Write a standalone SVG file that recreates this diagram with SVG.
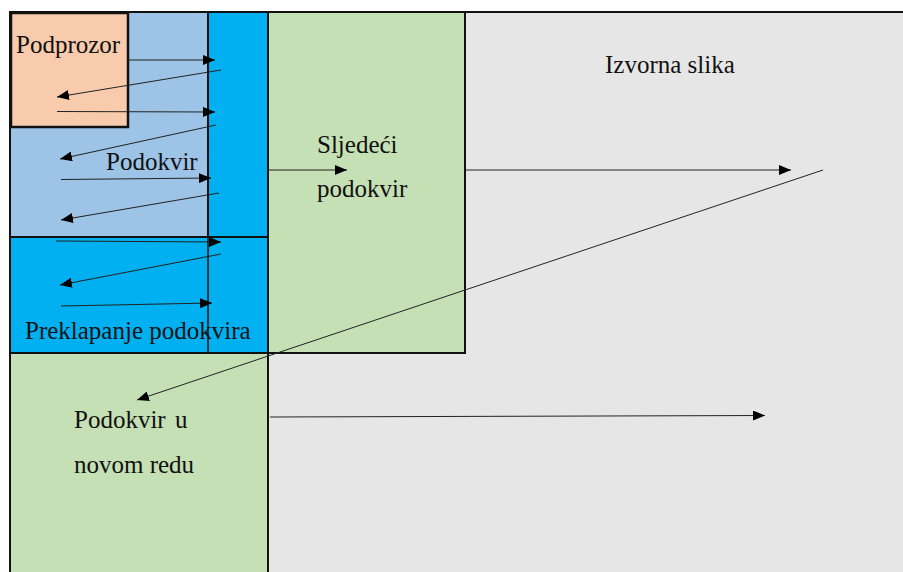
<svg xmlns="http://www.w3.org/2000/svg" width="903" height="572" viewBox="0 0 903 572" font-family="'Liberation Serif', 'DejaVu Serif', 'Times New Roman', serif">
<style>
text{font-family:'Liberation Serif','DejaVu Serif','Times New Roman',serif;font-size:25px;fill:#111}
.ln{stroke:#222;stroke-width:1;fill:none}
.bx{stroke:#111;stroke-width:2}
</style>
<defs>
<marker id="ah" markerUnits="userSpaceOnUse" markerWidth="13" markerHeight="10" refX="12" refY="5" orient="auto">
<path d="M0,0 L12,5 L0,10 Z" fill="#000"/>
</marker>
</defs>
<rect width="903" height="572" fill="#fff"/>
<g id="izvorna">
<rect x="10" y="12" width="900" height="570" fill="#e6e6e6" stroke="#111" stroke-width="2"/>
<text x="605" y="73" font-family="Liberation Serif, serif">Izvorna slika</text>
</g>
<g id="novi-red">
<rect x="10" y="353" width="258" height="230" fill="#c5e0b4" class="bx"/>
<text x="74" y="428" font-family="Liberation Serif, serif">Podokvir <tspan x="175">u</tspan></text>
<text x="74" y="473" font-family="Liberation Serif, serif">novom redu</text>
</g>
<g id="sljedeci">
<rect x="268" y="12" width="197" height="341" fill="#c5e0b4" class="bx"/>
<text x="317" y="153" font-family="Liberation Serif, serif">Sljedeći</text>
<text x="317" y="197" font-family="Liberation Serif, serif">podokvir</text>
</g>
<g id="podokvir">
<rect x="10" y="12" width="198" height="225" fill="#9dc3e6" class="bx"/>
<rect x="208" y="12" width="60" height="341" fill="#00b0f0" class="bx"/>
<text x="106" y="170" font-family="Liberation Serif, serif">Podokvir</text>
</g>
<g id="preklapanje">
<rect x="10" y="237" width="258" height="116" fill="#00b0f0" class="bx"/>
<line x1="208" y1="237" x2="208" y2="353" stroke="#111" stroke-width="1.5"/>
<text x="25" y="339" font-family="Liberation Serif, serif">Preklapanje podokvira</text>
</g>
<g id="podprozor">
<rect x="11" y="13" width="117" height="114" fill="#f8cbad" stroke="#111" stroke-width="2.5"/>
<text x="16" y="53" font-family="Liberation Serif, serif">Podprozor</text>
</g>
<g id="connectors">
<line class="ln" x1="128" y1="60" x2="215" y2="60" marker-end="url(#ah)"/>
<line class="ln" x1="221" y1="70" x2="57" y2="97" marker-end="url(#ah)"/>
<line class="ln" x1="57" y1="111.5" x2="215" y2="112" marker-end="url(#ah)"/>
<line class="ln" x1="216" y1="125" x2="60" y2="159" marker-end="url(#ah)"/>
<line class="ln" x1="61" y1="179.5" x2="211" y2="178" marker-end="url(#ah)"/>
<line class="ln" x1="219" y1="193" x2="61" y2="220" marker-end="url(#ah)"/>
<line class="ln" x1="56" y1="241" x2="221" y2="242" marker-end="url(#ah)"/>
<line class="ln" x1="221" y1="254" x2="60" y2="285" marker-end="url(#ah)"/>
<line class="ln" x1="61" y1="306" x2="212" y2="303" marker-end="url(#ah)"/>
<line class="ln" x1="268" y1="170" x2="347" y2="170" marker-end="url(#ah)"/>
<line class="ln" x1="465" y1="170" x2="791" y2="170" marker-end="url(#ah)"/>
<line class="ln" x1="823" y1="170" x2="137" y2="400" marker-end="url(#ah)"/>
<line class="ln" x1="270" y1="417" x2="765" y2="415.5" marker-end="url(#ah)"/>
</g>
</svg>
